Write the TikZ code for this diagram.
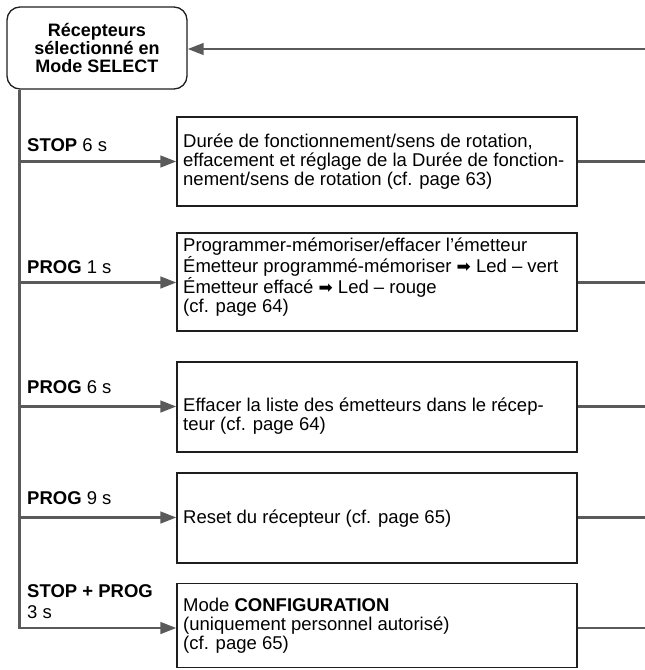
\documentclass[tikz,border=0pt]{standalone}
\usepackage{fontspec}
\setmainfont{Liberation Sans}
\newfontfamily\dvfont{DejaVu Sans}
\usetikzlibrary{arrows.meta}
\definecolor{conn}{HTML}{5A5A5A}
\definecolor{edgecol}{HTML}{1E1E1E}
\newcommand{\rarr}{{\dvfont\fontsize{17}{17}\selectfont ➡}}
\begin{document}
\begin{tikzpicture}[x=1pt,y=-1pt,
  connline/.style={draw=conn, line width=2.8pt},
  tip/.style={-{Triangle[length=16pt,width=11.5pt]}},
  actbox/.style={draw=edgecol, line width=1.2pt, rectangle, minimum width=400pt, inner sep=0pt},
  boxtxt/.style={anchor=west, align=left, inner sep=0pt, font=\fontsize{18.5}{18.8}\selectfont},
  lbl/.style={anchor=base west, inner sep=0pt, font=\fontsize{18.5}{20}\selectfont},
]
\useasboundingbox (0,0) rectangle (645,670);

% coordinates
\coordinate (rt) at (645,49);
\coordinate (j1) at (19.5,161.5);
\coordinate (j2) at (19.5,282.5);
\coordinate (j3) at (19.5,406.5);
\coordinate (j4) at (19.5,517.5);
\coordinate (j5) at (19.5,628);
\coordinate (r1) at (645,161.5);
\coordinate (r2) at (645,282.5);
\coordinate (r3) at (645,406.5);
\coordinate (r4) at (645,517.5);
\coordinate (r5) at (645,628);

% nodes
\node[draw=edgecol, line width=1.3pt, rounded corners=13pt, minimum width=180pt, minimum height=82pt, inner sep=0pt, align=center, font=\bfseries\fontsize{18}{18}\selectfont] (sel) at (97,48) {Récepteurs\\sélectionné en\\Mode SELECT};

\node[actbox, minimum height=89pt] (b1) at (377,161.5) {};
\node[actbox, minimum height=98pt] (b2) at (377,282) {};
\node[actbox, minimum height=90pt] (b3) at (377,407) {};
\node[actbox, minimum height=90pt] (b4) at (377,518) {};
\node[actbox, minimum height=84pt] (b5) at (377,625.5) {};

\node[boxtxt] (t1) at (183,161.5) {Durée de fonctionnement/sens de rotation,\\effacement et réglage de la Durée de fonction-\\nement/sens de rotation (cf. page 63)};
\node[boxtxt] (t2) at (183,277) {Programmer-mémoriser/effacer l’émetteur\\Émetteur programmé-mémoriser \rarr{} Led – vert\\Émetteur effacé \rarr{} Led – rouge\\(cf. page 64)};
\node[boxtxt] (t3) at (183,416) {Effacer la liste des émetteurs dans le récep-\\teur (cf. page 64)};
\node[boxtxt] (t4) at (183,519) {Reset du récepteur (cf. page 65)};
\node[boxtxt] (t5) at (183,626) {Mode \textbf{CONFIGURATION}\\(uniquement personnel autorisé)\\(cf. page 65)};

\node[lbl] (l1) at (27,151) {\textbf{STOP} 6 s};
\node[lbl] (l2) at (27,273) {\textbf{PROG} 1 s};
\node[lbl] (l3) at (27,393) {\textbf{PROG} 6 s};
\node[lbl] (l4) at (27,504) {\textbf{PROG} 9 s};
\node[lbl] (l5) at (27,597) {\textbf{STOP + PROG}};
\node[lbl] (l5b) at (27,618) {3 s};

% connectors
\draw[connline, tip] (rt) -- (rt -| sel.east);
\draw[connline, tip] (j1 |- sel.south) -- (j5) -- (j5 -| b5.west);
\foreach \i in {1,2,3,4} {
  \draw[connline, tip] (j\i) -- (j\i -| b\i.west);
}
\foreach \i in {1,2,3,4,5} {
  \draw[connline] (r\i -| b\i.east) -- (r\i);
}
\end{tikzpicture}
\end{document}
